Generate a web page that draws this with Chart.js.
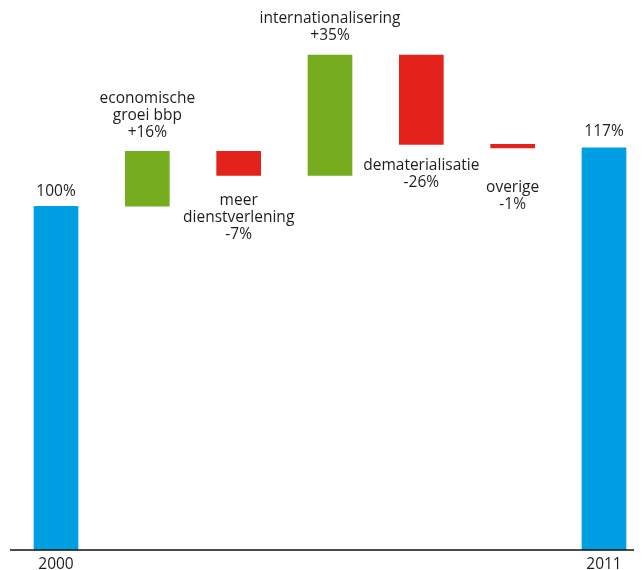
<!DOCTYPE html>
<html>
<head>
<meta charset="utf-8">
<script src="https://cdn.jsdelivr.net/npm/chart.js@4"></script>
<style>
    body { margin: 0; background: #fff; }
    #wrap { width: 643px; height: 570px; position: relative; }
</style>
</head>
<body>
<div id="wrap"><canvas id="waterfallChart"></canvas></div>
<script>
// data
const categories = ['2000', 'economische groei bbp', 'meer dienstverlening', 'internationalisering', 'dematerialisatie', 'overige', '2011'];
const startValue = 100;
const changes = [16, -7, 35, -26, -1];
const endValue = 117;
const labelLines = [
    ['100%'],
    ['economische', 'groei bbp', '+16%'],
    ['meer', 'dienstverlening', '-7%'],
    ['internationalisering', '+35%'],
    ['dematerialisatie', '-26%'],
    ['overige', '-1%'],
    ['117%']
];
const axisLabels = ['2000', '', '', '', '', '', '2011'];

const blue = '#009fe3';
const green = '#76ad1f';
const red = '#e3231b';

// build floating bars [from, to]
var floats = [[0, startValue]];
var colors = [blue];
var running = startValue;
changes.forEach((c) => {
    floats.push([running, running + c]);
    colors.push(c >= 0 ? green : red);
    running += c;
});
floats.push([0, endValue]);
colors.push(blue);

// gap between bar edge and its label (px), decreases go below the bar
var labelGap = [15, 19, 25, 19, 21, 40, 16];
var lineHeight = 17;

const labelPlugin = {
    id: 'waterfallLabels',
    afterDatasetsDraw(chart) {
        var ctx = chart.ctx;
        var bars = chart.getDatasetMeta(0).data;
        var yZero = chart.scales.y.getPixelForValue(0);
        ctx.save();
        ctx.font = '15.5px "Open Sans"';
        ctx.fillStyle = '#1e1e1e';
        ctx.textAlign = 'center';
        ctx.textBaseline = 'middle';

        bars.forEach((bar, i) => {
            var top = Math.min(bar.y, bar.base);
            var bottom = Math.max(bar.y, bar.base);
            var lines = labelLines[i];
            var isDrop = floats[i][1] < floats[i][0];
            lines.forEach((line, k) => {
                var y;
                if (isDrop) {
                    y = bottom + labelGap[i] + k * lineHeight;
                } else {
                    y = top - labelGap[i] - (lines.length - 1 - k) * lineHeight;
                }
                ctx.fillText(line, bar.x, y);
            });
            if (axisLabels[i]) {
                ctx.fillText(axisLabels[i], bar.x, yZero + 15);
            }
        });

        // baseline
        ctx.strokeStyle = '#111';
        ctx.lineWidth = 1.5;
        ctx.beginPath();
        ctx.moveTo(10, yZero);
        ctx.lineTo(634, yZero);
        ctx.stroke();
        ctx.restore();
    }
};

var ctx = document.getElementById('waterfallChart').getContext('2d');
var waterfallChart = new Chart(ctx, {
    type: 'bar',
    data: {
        labels: categories,
        datasets: [{
            data: floats,
            backgroundColor: colors,
            barThickness: 44,
            borderSkipped: false,
            clip: false
        }]
    },
    options: {
        responsive: true,
        maintainAspectRatio: false,
        animation: false,
        layout: { padding: { left: 56, right: 39, top: 0, bottom: 20 } },
        plugins: {
            legend: { display: false },
            tooltip: { enabled: false }
        },
        scales: {
            x: { display: false, offset: false },
            y: { display: false, min: 0, max: 160 }
        }
    },
    plugins: [labelPlugin]
});
</script>
</body>
</html>
